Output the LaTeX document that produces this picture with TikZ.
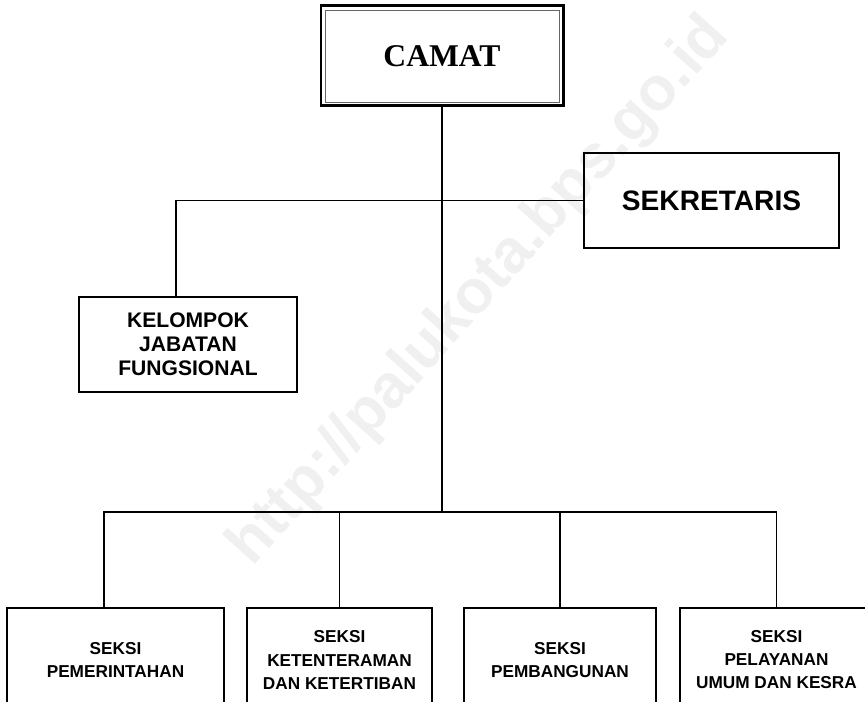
\documentclass[tikz,border=0pt]{standalone}
\usepackage{fontspec}
\setmainfont{Liberation Serif}
\setsansfont{Liberation Sans}
\usetikzlibrary{calc,positioning}

\begin{document}
\begin{tikzpicture}[
  kotak/.style={draw=black,line width=1pt,align=center,inner sep=0pt,font=\sffamily\bfseries},
  seksi/.style={kotak,minimum height=2.08cm,font=\sffamily\bfseries\fontsize{9.8}{13.1}\selectfont},
  garis/.style={black,line width=0.9pt}
]
%Bild 865x702 px, 1 px = 0.02 cm
\useasboundingbox (0,0) rectangle (17.3,14.04);
\clip (0,0) rectangle (17.3,14.04);
%Wasserzeichen
\node[rotate=48,text=black!6,font=\sffamily\bfseries\fontsize{35}{38}\selectfont] (wm) at (9.6,8.2) {http://palukota.bps.go.id};
%Kaesten
\node[kotak,line width=1.7pt,minimum width=4.84cm,minimum height=2cm,font=\rmfamily\bfseries\fontsize{18}{20}\selectfont] (camat) at (8.84,12.92) {CAMAT};
\draw[black!60,line width=0.5pt] ($(camat.north west)+(0.11,-0.11)$) rectangle ($(camat.south east)+(-0.11,0.11)$);
\node[kotak,minimum width=5.1cm,minimum height=1.9cm,font=\sffamily\bfseries\fontsize{16}{19}\selectfont] (sekretaris) at (14.23,10.03) {SEKRETARIS};
\node[kotak,minimum width=4.36cm,minimum height=1.9cm,font=\sffamily\bfseries\fontsize{12}{13.7}\selectfont] (kelompok) at (3.76,7.15) {KELOMPOK\\JABATAN\\FUNGSIONAL};
\foreach \nama/\xpos/\lebar/\isi in {seksiA/2.31/4.34/{SEKSI\\PEMERINTAHAN},seksiB/6.79/3.70/{SEKSI\\KETENTERAMAN\\DAN KETERTIBAN},seksiC/11.2/3.84/{SEKSI\\PEMBANGUNAN},seksiD/15.53/3.86/{SEKSI\\PELAYANAN\\UMUM DAN KESRA}}{
\node[seksi,minimum width=\lebar cm] (\nama) at (\xpos,0.84) {\isi};
}
%Linien
\coordinate (bar) at (0,3.80);
\draw[garis] (camat.south) -- (camat.south |- bar);
\draw[garis] (sekretaris.west) -| ([xshift=-0.24cm]kelompok.north);
\draw[garis] ([xshift=-0.23cm]seksiA.north) -- ([xshift=-0.23cm]seksiA.north |- bar) -| (seksiD.north);
\foreach \nama in {seksiB,seksiC}{
\draw[garis] (\nama.north |- bar) -- (\nama.north);
}
\end{tikzpicture}
\end{document}
